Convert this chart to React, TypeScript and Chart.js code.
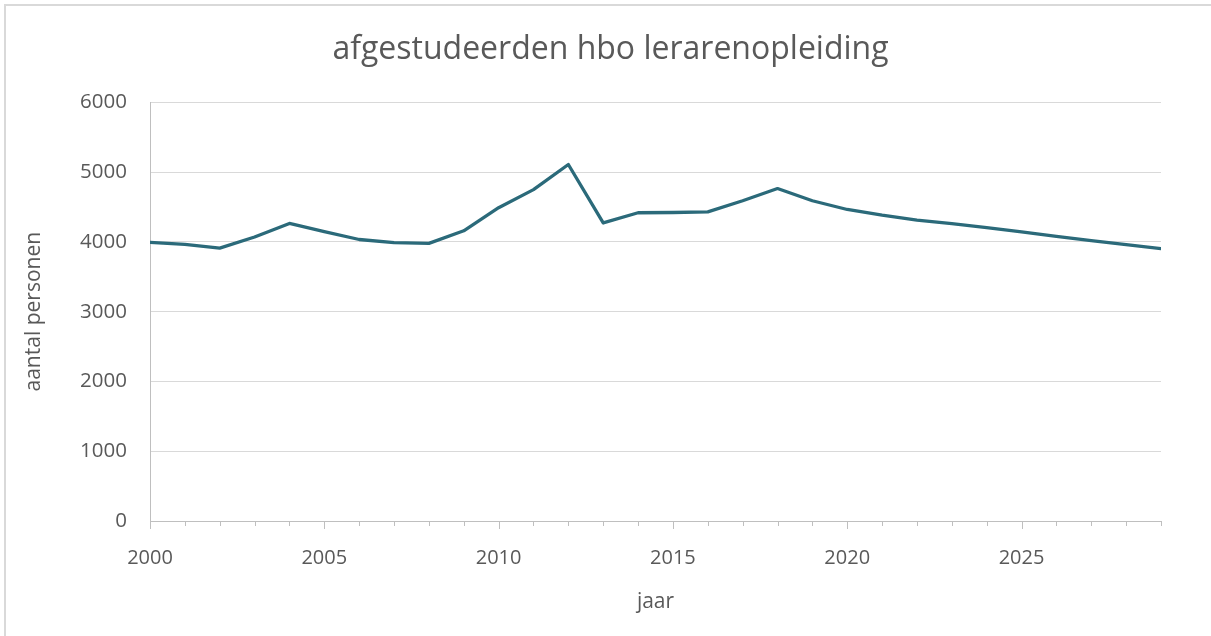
import React, { useEffect, useRef } from "react";
import { Chart, registerables } from "chart.js";

Chart.register(...registerables);

const chartTitle = "afgestudeerden hbo lerarenopleiding";
const xAxisTitle = "jaar";
const yAxisTitle = "aantal personen";

const years = [
  2000, 2001, 2002, 2003, 2004, 2005, 2006, 2007, 2008, 2009,
  2010, 2011, 2012, 2013, 2014, 2015, 2016, 2017, 2018, 2019,
  2020, 2021, 2022, 2023, 2024, 2025, 2026, 2027, 2028, 2029,
];
const graduates = [
  3995, 3965, 3912, 4070, 4265, 4148, 4035, 3990, 3980, 4160,
  4490, 4750, 5110, 4272, 4418, 4422, 4430, 4590, 4765, 4590,
  4465, 4383, 4313, 4262, 4205, 4143, 4080, 4020, 3963, 3904,
];
const xMajorStep = 5;
const yTicks = [0, 1000, 2000, 3000, 4000, 5000, 6000];

const FONT = "'Open Sans', 'DejaVu Sans', sans-serif";
const TEXT = "#595959";

const tickMarksPlugin = {
  id: "tickMarks",
  afterDraw(chart: any) {
    const xs = chart.scales.x;
    const ctx = chart.ctx;
    const y0 = chart.chartArea.bottom;
    ctx.save();
    ctx.strokeStyle = "#bfbfbf";
    ctx.lineWidth = 1;
    for (const yr of years) {
      const px = Math.round(xs.getPixelForValue(yr)) + 0.5;
      const len = yr % xMajorStep === 0 ? 8 : 5;
      ctx.beginPath();
      ctx.moveTo(px, y0);
      ctx.lineTo(px, y0 + len);
      ctx.stroke();
    }
    ctx.restore();
  },
};

export default function App() {
  const ref = useRef<HTMLCanvasElement | null>(null);

  useEffect(() => {
    if (!ref.current) return;
    const chart = new Chart(ref.current, {
      type: "line",
      data: {
        datasets: [
          {
            label: yAxisTitle,
            data: years.map((x, i) => ({ x, y: graduates[i] })),
            borderColor: "#2b6a7a",
            borderWidth: 3.3,
            pointRadius: 0,
            tension: 0,
            borderJoinStyle: "round",
            borderCapStyle: "round",
            fill: false,
            yAxisID: "y",
          },
        ],
      },
      options: {
        animation: false,
        responsive: false,
        maintainAspectRatio: false,
        layout: { padding: { left: 10, right: 0, top: 0, bottom: 0 } },
        plugins: {
          legend: { display: false },
          tooltip: { enabled: false },
          title: {
            display: true,
            text: chartTitle,
            color: TEXT,
            font: { family: FONT, size: 32, weight: "normal" },
            padding: { top: 31, bottom: 33 },
          },
        },
        scales: {
          x: {
            type: "linear",
            min: years[0],
            max: years[years.length - 1],
            afterFit: (s: any) => {
              s.height = 115;
            },
            ticks: {
              stepSize: xMajorStep,
              includeBounds: false,
              autoSkip: false,
              maxRotation: 0,
              padding: 25,
              color: TEXT,
              font: { family: FONT, size: 20 },
              callback: (v: any) => (Number(v) % xMajorStep === 0 ? String(v) : ""),
            },
            grid: { display: false, drawTicks: false },
            border: { display: true, color: "#bfbfbf", width: 1 },
            title: {
              display: true,
              text: xAxisTitle,
              color: TEXT,
              font: { family: FONT, size: 21 },
              padding: { top: 0, bottom: 21 },
            },
          },
          y: {
            position: "left",
            min: yTicks[0],
            max: yTicks[yTicks.length - 1],
            afterFit: (s: any) => {
              s.width = 140;
            },
            ticks: {
              stepSize: 1000,
              padding: 23,
              color: TEXT,
              font: { family: FONT, size: 20.5 },
              callback: (v: any) => String(v),
            },
            grid: { color: "#d9d9d9", lineWidth: 1, drawTicks: false },
            border: { display: true, color: "#bfbfbf", width: 1 },
            title: {
              display: true,
              text: yAxisTitle,
              color: TEXT,
              font: { family: FONT, size: 21 },
              padding: { top: 11, bottom: 0 },
            },
          },
          yRight: {
            position: "right",
            display: true,
            min: yTicks[0],
            max: yTicks[yTicks.length - 1],
            afterFit: (s: any) => {
              s.width = 50;
            },
            ticks: { display: false },
            grid: { display: false, drawTicks: false },
            border: { display: false },
          },
        },
      },
      plugins: [tickMarksPlugin],
    } as any);
    return () => chart.destroy();
  }, []);

  return (
    <div
      style={{
        position: "fixed",
        left: 0,
        top: 0,
        width: 1211,
        height: 636,
        background: "#ffffff",
        overflow: "hidden",
      }}
    >
      <div
        style={{
          position: "absolute",
          left: 4,
          top: 4,
          width: 1230,
          height: 660,
          border: "2px solid #d9d9d9",
          boxSizing: "border-box",
        }}
      />
      <canvas
        ref={ref}
        width={1211}
        height={636}
        style={{ position: "absolute", left: 0, top: 0, width: 1211, height: 636 }}
      />
    </div>
  );
}
